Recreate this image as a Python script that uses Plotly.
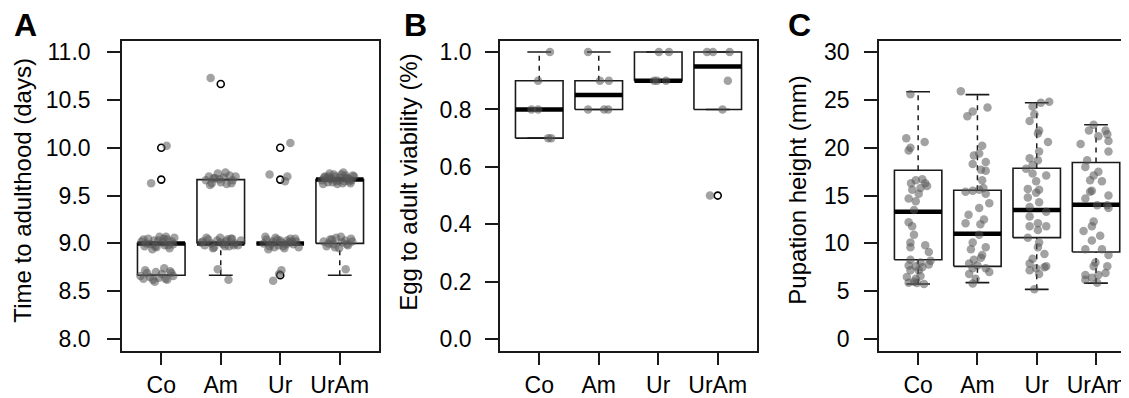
import plotly.graph_objects as go
from plotly.subplots import make_subplots

groups = ["Co", "Am", "Ur", "UrAm"]

# A: time to adulthood (days) - box statistics
dev_q1 = [8.667, 9.0, 9.0, 9.0]
dev_med = [9.0, 9.0, 9.0, 9.667]
dev_q3 = [9.0, 9.667, 9.0, 9.667]
dev_lo = [8.667, 8.667, 9.0, 8.667]
dev_hi = [9.0, 9.667, 9.0, 9.667]
dev_out = [[10.0, 9.667], [10.667], [10.0, 9.667, 8.667], []]

# A: jittered points (offset from group centre, value)
dev_dx = [
    [0.09, -0.17,
     -0.33, -0.28, -0.22, -0.18, -0.12, -0.08, -0.03, 0.02, 0.06, 0.10, 0.14, 0.18, 0.22, -0.25, -0.15, -0.05, 0.04, 0.12, 0.20, -0.30, 0.08, -0.10,
     -0.35, -0.30, -0.24, -0.19, -0.14, -0.09, -0.04, 0.01, 0.05, 0.10, 0.15, 0.20, -0.27, -0.11, 0.07, 0.17],
    [-0.17, -0.05, 0.13,
     -0.25, -0.20, -0.15, -0.10, -0.05, 0.0, 0.05, 0.10, 0.15, 0.20, 0.25, -0.18, -0.02, 0.08, 0.18, -0.12,
     -0.33, -0.27, -0.21, -0.16, -0.11, -0.06, -0.01, 0.04, 0.09, 0.14, 0.19, 0.24, 0.29, 0.34, -0.24, -0.13, 0.0, 0.11, 0.22, -0.30, 0.07, 0.17],
    [0.17, -0.18, 0.12, 0.08, 0.02, -0.12, -0.02,
     -0.28, -0.23, -0.18, -0.13, -0.08, -0.03, 0.02, 0.07, 0.12, 0.17, 0.22, 0.27, 0.31, -0.25, -0.15, -0.05, 0.05, 0.15, 0.25, -0.20, 0.0, 0.10, 0.20, -0.10],
    [0.10,
     -0.30, -0.25, -0.20, -0.15, -0.10, -0.05, 0.0, 0.05, 0.10, 0.15, 0.20, 0.24, -0.28, -0.22, -0.17, -0.12, -0.07, -0.02, 0.03, 0.08, 0.13, 0.18, 0.22, -0.26, -0.14, -0.04, 0.06, 0.16, -0.19, 0.11,
     -0.27, -0.22, -0.16, -0.11, -0.06, -0.01, 0.04, 0.09, 0.14, 0.19, -0.19, -0.08, 0.02, 0.12, 0.21, -0.13],
]
dev_y = [
    [10.02, 9.63,
     9.02, 8.97, 9.05, 8.99, 9.03, 8.96, 9.07, 9.01, 8.98, 9.04, 8.95, 9.02, 9.06, 9.00, 8.94, 9.03, 9.05, 8.98, 8.99, 9.04, 9.07, 8.97,
     8.66, 8.63, 8.69, 8.65, 8.62, 8.70, 8.64, 8.68, 8.74, 8.62, 8.71, 8.66, 8.72, 8.60, 8.63, 8.69],
    [10.73, 8.73, 8.62,
     9.66, 9.70, 9.63, 9.68, 9.73, 9.64, 9.69, 9.62, 9.71, 9.66, 9.70, 9.61, 9.67, 9.74, 9.63, 9.68,
     9.01, 8.98, 9.04, 9.00, 8.96, 9.03, 9.06, 8.99, 9.02, 8.97, 9.05, 9.00, 8.98, 9.03, 9.06, 8.95, 9.01, 9.04, 8.98, 9.02, 8.97, 9.05],
    [10.05, 9.72, 9.70, 9.65, 8.72, 8.61, 8.68,
     9.00, 9.04, 8.97, 9.02, 9.06, 8.98, 9.01, 8.95, 9.03, 9.05, 8.99, 9.02, 8.96, 9.07, 9.00, 9.04, 8.97, 9.01, 9.05, 8.94, 9.03, 8.99, 9.02, 8.96],
    [8.73,
     9.66, 9.70, 9.64, 9.68, 9.72, 9.65, 9.69, 9.63, 9.71, 9.67, 9.66, 9.70, 9.62, 9.68, 9.73, 9.64, 9.70, 9.66, 9.72, 9.65, 9.68, 9.63, 9.71, 9.69, 9.67, 9.62, 9.74, 9.65, 9.70, 9.68,
     9.02, 8.97, 9.04, 8.99, 9.06, 8.95, 9.01, 9.03, 8.98, 9.05, 9.00, 8.96, 9.07, 8.99, 9.02, 9.04],
]

# B: egg to adult viability
via_q1 = [0.7, 0.8, 0.9, 0.8]
via_med = [0.8, 0.85, 0.9, 0.95]
via_q3 = [0.9, 0.9, 1.0, 1.0]
via_lo = [0.7, 0.8, 0.9, 0.8]
via_hi = [1.0, 1.0, 1.0, 1.0]
via_out = [[], [], [], [0.5]]
via_dx = [
    [0.18, -0.02, -0.13, -0.02, 0.15, 0.20],
    [-0.18, 0.02, 0.17, -0.18, 0.09, 0.16],
    [0.01, 0.18, -0.07, -0.02, 0.13],
    [-0.18, -0.08, 0.20, 0.17, 0.08, -0.13],
]
via_y = [
    [1.0, 0.9, 0.8, 0.8, 0.7, 0.7],
    [1.0, 0.9, 0.9, 0.8, 0.8, 0.8],
    [1.0, 1.0, 0.9, 0.9, 0.9],
    [1.0, 1.0, 1.0, 0.9, 0.8, 0.5],
]

# C: pupation height (mm)
pup_q1 = [8.3, 7.6, 10.6, 9.1]
pup_med = [13.3, 11.0, 13.5, 14.05]
pup_q3 = [17.65, 15.55, 17.85, 18.45]
pup_lo = [5.75, 5.9, 5.2, 5.85]
pup_hi = [25.85, 25.55, 24.7, 22.4]
pup_out = [[], [], [], []]
pup_dx = [
    [-0.13, -0.20, 0.11, -0.16, -0.13, -0.04, 0.07, 0.12, -0.10, 0.04, 0.01, -0.16, -0.04, -0.07, -0.16, -0.10, -0.07, -0.13, -0.13,
     0.12, 0.18, -0.13, 0.04, 0.21, -0.16, -0.04, 0.07, 0.18, -0.13, 0.01, -0.19, -0.04, 0.04, -0.16, -0.02, 0.10, -0.07, 0.15, -0.12],
    [-0.28, -0.17, -0.08, 0.17, 0.08, 0.03, -0.06, 0.14, -0.08, 0.06, 0.14, 0.08, 0.03, -0.08, -0.20, 0.14, 0.20, 0.03, 0.11, -0.20,
     0.03, -0.08, -0.11, 0.14, 0.08, -0.06, 0.06, -0.14, 0.00, -0.08, 0.14, -0.14, 0.20, -0.03, -0.08, 0.10, -0.15, 0.05],
    [0.07, 0.21, -0.07, -0.04, -0.12, 0.04, 0.02, 0.19, 0.04, -0.12, 0.02, -0.07, -0.18, 0.16, -0.07, -0.01, -0.15, 0.04, -0.01, -0.15,
     0.04, -0.12, 0.16, -0.12, 0.02, -0.12, 0.16, 0.02, -0.15, 0.04, 0.02, 0.13, -0.07, -0.12, 0.13, -0.01, 0.16, -0.12, 0.04, -0.04],
    [-0.04, -0.12, 0.16, 0.04, 0.19, 0.21, -0.26, 0.21, -0.15, -0.18, 0.04, -0.04, -0.10, 0.10, -0.07, 0.21, -0.10, -0.18, 0.19, 0.02,
     0.21, -0.04, -0.07, -0.21, 0.07, -0.07, -0.18, 0.10, 0.21, -0.01, 0.19, -0.04, -0.18, 0.04, 0.16, -0.07, 0.02, -0.18],
]
pup_y = [
    [25.6, 21.0, 20.6, 19.7, 20.0, 16.6, 16.7, 16.3, 15.6, 15.8, 15.2, 14.7, 14.4, 13.5, 12.2, 11.8, 10.9, 10.1, 9.6,
     9.8, 9.1, 8.3, 8.0, 8.2, 7.7, 7.6, 7.5, 7.8, 7.2, 7.2, 6.5, 6.3, 6.6, 5.9, 5.85, 5.75, 6.0, 16.0, 16.3],
    [25.9, 23.3, 23.8, 24.2, 20.2, 19.4, 19.2, 18.5, 18.3, 17.7, 17.6, 16.6, 15.6, 15.5, 15.4, 15.2, 14.2, 13.7, 12.5, 12.1,
     10.9, 10.1, 9.4, 9.6, 8.8, 8.3, 8.5, 7.9, 7.7, 7.4, 7.4, 6.8, 7.0, 6.3, 5.8, 15.8, 13.0, 12.0],
    [24.7, 24.8, 24.3, 23.5, 22.8, 21.8, 21.5, 20.6, 19.6, 18.9, 18.7, 18.2, 17.8, 17.1, 17.3, 16.5, 15.7, 15.6, 15.3, 14.8,
     14.3, 13.8, 13.3, 12.8, 12.1, 11.8, 11.8, 11.4, 10.6, 10.1, 9.6, 8.9, 8.4, 7.9, 7.5, 7.4, 7.6, 7.2, 6.8, 5.2],
    [22.4, 21.8, 21.8, 21.2, 21.4, 20.7, 20.4, 19.6, 18.7, 18.0, 17.5, 17.1, 16.6, 16.5, 15.5, 15.0, 15.4, 14.7, 14.0, 14.0,
     13.7, 12.3, 11.8, 11.3, 10.8, 10.3, 9.4, 9.4, 8.8, 8.0, 7.6, 7.6, 6.7, 6.7, 6.9, 6.4, 5.9, 6.2],
]

INK = "#1a1a1a"
PT = "rgba(85,85,85,0.55)"
FONT = "Liberation Sans, Arial, sans-serif"
HALF = 0.4    # half box width
STAPLE = 0.2  # half staple width


def add_panel(fig, col, q1, med, q3, lo, hi, out, dx, ys):
    bx, by, mx, my, wx, wy, sx, sy, ox, oy, px, py = ([] for _ in range(12))
    for i in range(len(groups)):
        c = i + 1
        bx += [c - HALF, c + HALF, c + HALF, c - HALF, c - HALF, None]
        by += [q1[i], q1[i], q3[i], q3[i], q1[i], None]
        mx += [c - HALF, c + HALF, None]
        my += [med[i], med[i], None]
        if hi[i] > q3[i]:
            wx += [c, c, None]
            wy += [q3[i], hi[i], None]
        if lo[i] < q1[i]:
            wx += [c, c, None]
            wy += [lo[i], q1[i], None]
        sx += [c - STAPLE, c + STAPLE, None, c - STAPLE, c + STAPLE, None]
        sy += [hi[i], hi[i], None, lo[i], lo[i], None]
        ox += [c] * len(out[i])
        oy += out[i]
        px += [c + d for d in dx[i]]
        py += ys[i]
    line = dict(color=INK, width=1.6)
    fig.add_trace(go.Scatter(x=wx, y=wy, mode="lines", line=dict(color=INK, width=1.5, dash="5px,5px")), 1, col)
    fig.add_trace(go.Scatter(x=sx, y=sy, mode="lines", line=line), 1, col)
    fig.add_trace(go.Scatter(x=bx, y=by, mode="lines", line=line), 1, col)
    fig.add_trace(go.Scatter(x=mx, y=my, mode="lines", line=dict(color="black", width=4.5)), 1, col)
    fig.add_trace(go.Scatter(x=ox, y=oy, mode="markers",
                             marker=dict(symbol="circle-open", size=7, color="black", line=dict(width=1.6))), 1, col)
    fig.add_trace(go.Scatter(x=px, y=py, mode="markers", marker=dict(size=8.5, color=PT)), 1, col)


fig = make_subplots(rows=1, cols=3)
add_panel(fig, 1, dev_q1, dev_med, dev_q3, dev_lo, dev_hi, dev_out, dev_dx, dev_y)
add_panel(fig, 2, via_q1, via_med, via_q3, via_lo, via_hi, via_out, via_dx, via_y)
add_panel(fig, 3, pup_q1, pup_med, pup_q3, pup_lo, pup_hi, pup_out, pup_dx, pup_y)

# the page body has an 8px margin, so the figure is drawn 8px smaller and positions are shifted
OFF = 8
W, H = 1129 - OFF, 398 - OFF


def px_x(v):
    return (v - OFF) / W


def px_y(v):
    return 1 - (v - OFF) / H


y_dom = [px_y(354), px_y(40)]
axis_common = dict(showline=True, linecolor=INK, linewidth=1.6, ticks="outside", ticklen=13,
                   tickwidth=1.5, tickcolor=INK, showgrid=False, zeroline=False,
                   tickfont=dict(family=FONT, size=23, color="black"))

fig.update_xaxes(tickvals=[1, 2, 3, 4], ticktext=groups, **axis_common)
fig.update_yaxes(**axis_common)

fig.update_layout(
    xaxis=dict(domain=[px_x(122), px_x(379)], range=[0.34, 4.66], mirror=True),
    xaxis2=dict(domain=[px_x(500), px_x(757)], range=[0.34, 4.66], mirror=True),
    xaxis3=dict(domain=[px_x(879), 1.0], range=[0.34, 4.556], mirror=True),
    yaxis=dict(domain=y_dom, range=[7.88, 11.12], tickvals=[8, 8.5, 9, 9.5, 10, 10.5, 11], tickformat=".1f",
               mirror=True, ticklabelstandoff=12),
    yaxis2=dict(domain=y_dom, range=[-0.04, 1.04], tickvals=[0, 0.2, 0.4, 0.6, 0.8, 1.0], tickformat=".1f",
                mirror=True, ticklabelstandoff=9),
    yaxis3=dict(domain=y_dom, range=[-1.2, 31.2], tickvals=[0, 5, 10, 15, 20, 25, 30], mirror=False,
                ticklabelstandoff=10),
    width=W, height=H,
    margin=dict(l=0, r=0, t=0, b=0),
    plot_bgcolor="white", paper_bgcolor="white",
    showlegend=False,
    font=dict(family=FONT, color="black"),
)

letters = [("A", 12), ("B", 402), ("C", 786)]
for txt, xp in letters:
    fig.add_annotation(text="<b>%s</b>" % txt, x=px_x(xp), y=px_y(4), xref="paper", yref="paper",
                       xanchor="left", yanchor="top", showarrow=False, font=dict(family=FONT, size=32))

titles = [("Time to adulthood (days)", 23, 192), ("Egg to adult viability (%)", 409, 184),
          ("Pupation height (mm)", 798, 192)]
for txt, xp, yp in titles:
    fig.add_annotation(text=txt, x=px_x(xp), y=px_y(yp), xref="paper", yref="paper", textangle=-90,
                       xanchor="center", yanchor="middle", showarrow=False, font=dict(family=FONT, size=24))

fig.write_html("out.html")
